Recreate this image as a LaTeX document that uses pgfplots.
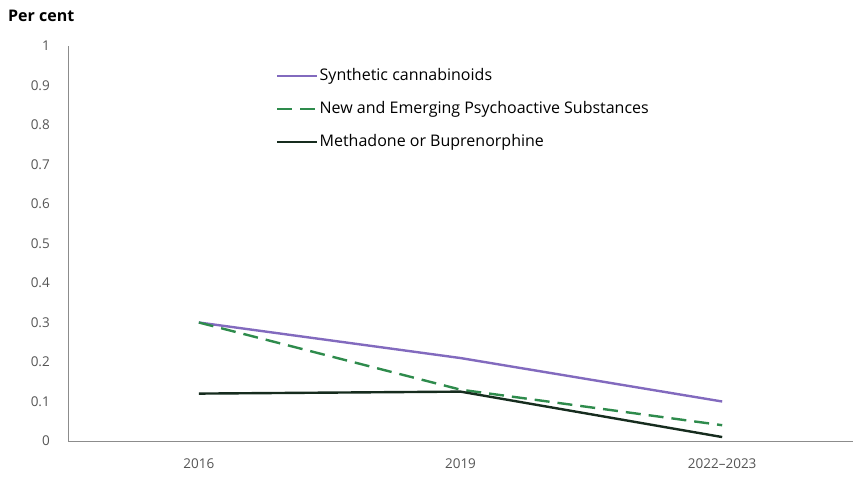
\documentclass[border=0pt]{standalone}
\usepackage{fontspec}
\setmainfont{Open Sans}
\usepackage{pgfplots}
\pgfplotsset{compat=1.18}

\definecolor{cpurple}{RGB}{130,106,190}
\definecolor{cgreen}{RGB}{46,139,76}
\definecolor{cdark}{RGB}{22,44,30}
\definecolor{ctick}{RGB}{85,85,85}
\definecolor{caxis}{RGB}{140,140,140}

\begin{document}
\begin{tikzpicture}
\useasboundingbox (-68bp,-36bp) rectangle (786bp,441bp);
\begin{axis}[
    at={(0,0)}, anchor=south west,
    scale only axis,
    width=785bp, height=395bp,
    xmin=-0.5, xmax=2.5,
    ymin=0, ymax=1,
    xtick={0,1,2},
    xticklabels={2016,2019,2022--2023},
    ytick={0,0.1,...,1},
    axis x line*=bottom,
    axis y line*=left,
    axis line style={caxis, line width=0.8bp, -},
    major tick length=0pt,
    tick style={draw=none},
    /pgf/number format/assume math mode=true,
    yticklabel style={font=\fontsize{13.5bp}{15bp}\selectfont, text=ctick, inner sep=0pt, xshift=-18bp},
    xticklabel style={font=\fontsize{13.5bp}{15bp}\selectfont, text=ctick, inner sep=0pt, yshift=-18bp},
    legend style={
        at={(0.261,0.952)}, anchor=north west,
        draw=none, fill=none,
        font=\fontsize{16bp}{18bp}\selectfont,
        row sep=15bp,
        nodes={inner sep=1bp, text height=12bp, text depth=4bp},
    },
    legend cell align=left,
    legend image code/.code={\draw[#1, line width=2.6bp] (0bp,0bp) -- (40bp,0bp);},
]
\addplot[cpurple, line width=2.4bp] coordinates {(0,0.30) (1,0.21) (2,0.10)};
\addlegendentry{Synthetic cannabinoids}
\addplot[cgreen, line width=2.4bp, dash pattern=on 15bp off 8bp] coordinates {(0,0.30) (1,0.13) (2,0.04)};
\addlegendentry{New and Emerging Psychoactive Substances}
\addplot[cdark, line width=2.4bp] coordinates {(0,0.12) (1,0.125) (2,0.01)};
\addlegendentry{Methadone or Buprenorphine}
\end{axis}
\node[anchor=west, inner sep=0pt, font=\bfseries\fontsize{16bp}{18bp}\selectfont] at (-60bp,425bp) {Per cent};
\end{tikzpicture}
\end{document}
